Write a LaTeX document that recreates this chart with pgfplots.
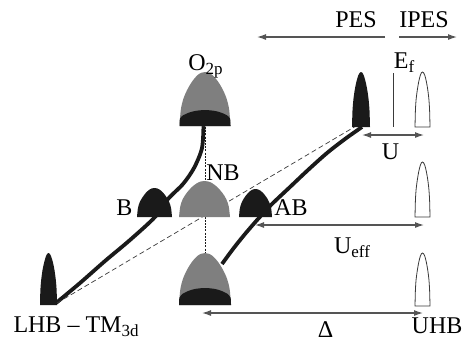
\documentclass[border=0pt]{standalone}
\usepackage{pgfplots}
\pgfplotsset{compat=1.18}
\usetikzlibrary{arrows.meta}
\usepackage{fontspec}
\setmainfont{Liberation Serif}
\definecolor{pgray}{HTML}{7F7F7F}
\definecolor{pblack}{HTML}{1A1A1A}
\definecolor{arrgray}{HTML}{555555}
\definecolor{outl}{HTML}{3A3A3A}
\newcommand{\sub}[1]{\raisebox{-0.4ex}{\fontsize{17}{17}\selectfont #1}}
\tikzset{lab/.style={anchor=base, font=\fontsize{24}{28}\selectfont, inner sep=0pt}}
\begin{document}
\begin{tikzpicture}
\useasboundingbox (0,0) rectangle (462pt,341pt);
\begin{axis}[at={(0,0)},anchor=south west, hide axis, scale only axis,
  width=462pt, height=341pt, xmin=0, xmax=462, ymin=0, ymax=341,
  y dir=reverse, clip=false,
  every axis plot/.append style={mark=none}]

% dotted vertical line
\addplot[pblack, line width=0.6pt, dash pattern=on 2pt off 1.2pt] coordinates {(205,127) (205,256)};

% thick curves
\addplot[pblack, line width=3.8pt, smooth] coordinates {
(203.5,124) (202,148) (194,168) (183,184) (168,199) (155,217) (130,240) (105,261) (80,283) (56,303)};
\addplot[pblack, line width=3.8pt, smooth] coordinates {
(362,127) (345,139) (327,153) (308,170) (290,187) (272,204) (258,219) (245,234) (233,249) (222,264)};

% dashed line
\addplot[outl, line width=0.7pt, dash pattern=on 5pt off 3pt] coordinates {(57,303) (356,126)};

% O2p peak
\addplot[fill=pgray, draw=none, smooth] coordinates {
(179.5,126) (180.8,109.8) (183.3,99) (187.2,89.8) (192.3,81.2) (197.4,75.2) (201.2,72.8) (205,72)
(208.8,72.8) (212.7,75.2) (217.8,81.2) (222.9,89.8) (226.7,99) (229.2,109.8) (230.5,126)} -- cycle;
\addplot[fill=pblack, draw=none, smooth] coordinates {
(179.5,126) (180,118.5) (183.3,115.2) (187.2,113.3) (192.3,111.6) (197.4,110.6) (205,110)
(212.7,110.6) (217.8,111.6) (222.9,113.3) (226.7,115.2) (230,118.5) (230.5,126)} -- cycle;

% bottom peak
\addplot[fill=pgray, draw=none, smooth] coordinates {
(179,305) (180.3,289.4) (182.9,279) (186.8,270.2) (192,261.8) (197.2,256.1) (201.1,253.8) (205,253)
(208.9,253.8) (212.8,256.1) (218,261.8) (223.2,270.2) (227.1,279) (229.7,289.4) (231,305)} -- cycle;
\addplot[fill=pblack, draw=none, smooth] coordinates {
(179,305) (179.5,297.5) (182.9,293.6) (186.8,291.6) (192,289.7) (197.2,288.6) (205,288)
(212.8,288.6) (218,289.7) (223.2,291.6) (227.1,293.6) (230.5,297.5) (231,305)} -- cycle;

% NB
\addplot[fill=pgray, draw=none, smooth] coordinates {
(179,217) (180.3,206.2) (182.8,199) (186.7,192.9) (191.8,187.1) (196.9,183.2) (200.7,181.5) (204.5,181)
(208.3,181.5) (212.2,183.2) (217.3,187.1) (222.4,192.9) (226.2,199) (228.7,206.2) (230,217)} -- cycle;
% B
\addplot[fill=pblack, draw=none, smooth] coordinates {
(137,217) (137.9,208.3) (139.6,202.5) (142.3,197.6) (145.8,192.9) (149.3,189.7) (151.9,188.4) (154.5,188)
(157.1,188.4) (159.8,189.7) (163.3,192.9) (166.8,197.6) (169.4,202.5) (171.1,208.3) (172,217)} -- cycle;
% AB
\addplot[fill=pblack, draw=none, smooth] coordinates {
(239,217) (239.8,208.6) (241.5,203) (244,198.2) (247.3,193.8) (250.6,190.7) (253,189.4) (255.5,189)
(258,189.4) (260.5,190.7) (263.8,193.8) (267.1,198.2) (269.5,203) (271.2,208.6) (272,217)} -- cycle;
% LHB
\addplot[fill=pblack, draw=none, smooth] coordinates {
(40,305) (40.4,289.4) (41.3,279) (42.5,270.2) (44.3,261.8) (46,256.1) (47.2,253.8) (48.5,253)
(49.8,253.8) (51,256.1) (52.8,261.8) (54.5,270.2) (55.7,279) (56.6,289.4) (57,305)} -- cycle;
% Ef black peak
\addplot[fill=pblack, draw=none, smooth] coordinates {
(352,127) (352.5,110.5) (353.4,99.5) (354.7,90.1) (356.5,81.3) (358.3,75.3) (359.7,72.8) (361,72)
(362.4,72.8) (363.7,75.3) (365.5,81.3) (367.3,90.1) (368.6,99.5) (369.5,110.5) (370,127)} -- cycle;

% white peaks
\addplot[fill=white, draw=outl, line width=0.8pt, smooth] coordinates {
(415,127) (415.4,110.5) (416.1,99.5) (417.3,90.1) (418.8,81.3) (420.3,75.3) (421.4,72.8) (422.5,72)
(423.6,72.8) (424.8,75.3) (426.3,81.3) (427.8,90.1) (428.9,99.5) (429.6,110.5) (430,127)} -- cycle;
\addplot[fill=white, draw=outl, line width=0.8pt, smooth] coordinates {
(415,217) (415.4,200.5) (416.1,189.5) (417.3,180.1) (418.8,171.3) (420.3,165.3) (421.4,162.8) (422.5,162)
(423.6,162.8) (424.8,165.3) (426.3,171.3) (427.8,180.1) (428.9,189.5) (429.6,200.5) (430,217)} -- cycle;
\addplot[fill=white, draw=outl, line width=0.8pt, smooth] coordinates {
(415,306) (415.4,290.1) (416.1,279.5) (417.3,270.5) (418.8,262) (420.3,256.2) (421.4,253.8) (422.5,253)
(423.6,253.8) (424.8,256.2) (426.3,262) (427.8,270.5) (428.9,279.5) (429.6,290.1) (430,306)} -- cycle;

% Ef line
\addplot[outl, line width=0.8pt] coordinates {(393,73) (393,127)};

% arrows
\addplot[arrgray, line width=1.2pt, -{Latex[length=9pt,width=6pt]}] coordinates {(385,37) (257,37)};
\addplot[arrgray, line width=1.2pt, -{Latex[length=9pt,width=6pt]}] coordinates {(399,37) (457,37)};
\addplot[arrgray, line width=1.2pt, {Latex[length=9pt,width=6pt]}-{Latex[length=9pt,width=6pt]}] coordinates {(362,135) (424,135)};
\addplot[arrgray, line width=1.2pt, {Latex[length=9pt,width=6pt]}-{Latex[length=9pt,width=6pt]}] coordinates {(255,225) (424,225)};
\addplot[arrgray, line width=1.2pt, {Latex[length=9pt,width=6pt]}-{Latex[length=9pt,width=6pt]}] coordinates {(202,313) (423,313)};

% labels
\node[lab] at (axis cs:356,27) {PES};
\node[lab] at (axis cs:424,27) {IPES};
\node[lab] at (axis cs:205.5,70) {O\sub{2p}};
\node[lab] at (axis cs:223,180) {NB};
\node[lab] at (axis cs:124.5,215) {B};
\node[lab] at (axis cs:291,215) {AB};
\node[lab] at (axis cs:404,68) {E\sub{f}};
\node[lab] at (axis cs:390.5,159) {U};
\node[lab] at (axis cs:352,253) {U\sub{eff}};
\node[lab] at (axis cs:76,332) {LHB -- TM\sub{3d}};
\node[lab] at (axis cs:325.5,337) {Δ};
\node[lab] at (axis cs:437,333) {UHB};
\end{axis}
\end{tikzpicture}
\end{document}
